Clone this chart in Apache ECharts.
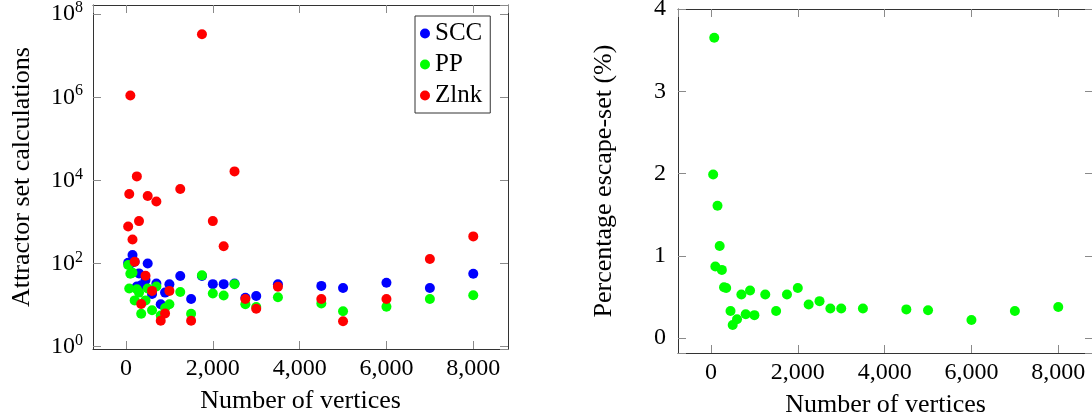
<!DOCTYPE html>
<html>
<head>
<meta charset="utf-8">
<script src="https://cdn.jsdelivr.net/npm/echarts@6/dist/echarts.min.js"></script>
<style>
html,body{margin:0;padding:0;background:#fff;}
#chart{width:1092px;height:416px;}
</style>
</head>
<body>
<div id="chart"></div>
<script>
const xVertices = [50,75,100,150,200,250,300,350,450,500,600,700,800,900,1000,1250,1500,1750,2000,2250,2500,2750,3000,3500,4500,5000,6000,7000,8000];
const sccCalcs = [105,95,100,160,110,28,58,30,40,100,18.5,33,10.5,20,31.6,50,14,50,32,32,33,15,16.5,31.6,29,25.7,34.7,25.7,56.7];
const ppCalcs = [92,25,57,60,13,24,20,6.2,13,25,7.5,28,5.6,8.5,10.5,20.6,6.2,52,19,17,32,10.5,9,15.4,11,7.1,9.1,14,17.2];
const zlnkCalcs = [780,4700,1.1e6,380,110,1.25e4,1050,10.6,51,4200,22,3100,4.2,6.3,22,6200,4.2,3.3e7,1050,260,1.65e4,14,8.2,27.6,14,4.1,14,129,450];
const ppEscapePct = [1.99,3.65,0.87,1.61,1.12,0.83,0.62,0.61,0.33,0.16,0.23,0.53,0.29,0.58,0.28,0.53,0.33,0.53,0.61,0.41,0.45,0.36,0.36,0.36,0.35,0.34,0.22,0.33,0.38];
const seriesNames = ['SCC','PP','Zlnk'];
const xTitle = 'Number of vertices';
const yTitleLeft = 'Attractor set calculations';
const yTitleRight = 'Percentage escape-set (%)';

const FONT = 'Liberation Serif';
const FS = 24;
const NFS = 26;
const FRAME = '#333';
const TICK = '#8a8a8a';
const pairs = (ys) => xVertices.map((x, i) => [x, ys[i]]);

function xLab(v) {
  if (Math.abs(v % 2000) > 1e-6) return '';
  return v.toLocaleString('en-US');
}
function yLinLab(v) {
  if (Math.abs(v - Math.round(v)) > 1e-6) return '';
  return String(Math.round(v));
}
function yLogLab(v) {
  const e = Math.log10(v);
  const r = Math.round(e);
  if (Math.abs(e - r) > 1e-6) return '';
  return '{b|10}{s|' + r + '}';
}

const XMIN = -760, XMAX = 8800;
function xAxes(gridIndex, pos) {
  const bottom = pos === 'bottom';
  return {
    type: 'value', gridIndex: gridIndex, position: pos, min: XMIN, max: XMAX, splitNumber: 5,
    axisLine: {show: true, onZero: false, lineStyle: {color: FRAME, width: 1}},
    axisTick: {show: true, inside: true, length: 8, lineStyle: {color: TICK}},
    splitLine: {show: false},
    axisLabel: {show: bottom, formatter: xLab, color: '#000', fontFamily: FONT, fontSize: FS, margin: 8,
                showMinLabel: false, showMaxLabel: false},
    name: bottom ? xTitle : '', nameLocation: 'middle', nameGap: 39,
    nameTextStyle: {color: '#000', fontFamily: FONT, fontSize: NFS}
  };
}
const richLog = {
  b: {fontFamily: FONT, fontSize: FS, color: '#000', lineHeight: 28},
  s: {fontFamily: FONT, fontSize: 16, color: '#000', lineHeight: 28, verticalAlign: 'top', padding: [0, 0, 9, 0]}
};
function yLogAxis(pos) {
  const left = pos === 'left';
  return {
    type: 'log', logBase: 100, gridIndex: 0, position: pos, min: 0.88, max: 1.66e8,
    axisLine: {show: true, onZero: false, lineStyle: {color: FRAME, width: 1}},
    axisTick: {show: true, inside: true, length: 8, lineStyle: {color: TICK}},
    minorTick: {show: false}, splitLine: {show: false},
    axisLabel: {show: left, formatter: yLogLab, rich: richLog, margin: 10, showMinLabel: false, showMaxLabel: false},
    name: left ? yTitleLeft : '', nameLocation: 'middle', nameGap: 58, nameRotate: 90,
    nameTextStyle: {color: '#000', fontFamily: FONT, fontSize: NFS}
  };
}
function yLinAxis(pos) {
  const left = pos === 'left';
  return {
    type: 'value', gridIndex: 1, position: pos, min: -0.18, max: 4, splitNumber: 5,
    axisLine: {show: true, onZero: false, lineStyle: {color: FRAME, width: 1}},
    axisTick: {show: true, inside: true, length: 8, lineStyle: {color: TICK}},
    splitLine: {show: false},
    axisLabel: {show: left, formatter: yLinLab, color: '#000', fontFamily: FONT, fontSize: FS, margin: 12},
    name: left ? yTitleRight : '', nameLocation: 'middle', nameGap: 61, nameRotate: 90,
    nameTextStyle: {color: '#000', fontFamily: FONT, fontSize: NFS}
  };
}

const chart = echarts.init(document.getElementById('chart'), null, {renderer: 'canvas'});
const dot = (name, color, data, xi, yi) => ({
  name: name, type: 'scatter', xAxisIndex: xi, yAxisIndex: yi, data: data,
  symbol: 'circle', symbolSize: 10, itemStyle: {color: color, opacity: 1},
  emphasis: {disabled: true}, animation: false
});
chart.setOption({
  animation: false,
  backgroundColor: '#fff',
  grid: [
    {left: 93, top: 5, width: 415, height: 344, containLabel: false, outerBoundsMode: 'none'},
    {left: 678, top: 9, width: 415, height: 344, containLabel: false, outerBoundsMode: 'none'}
  ],
  xAxis: [xAxes(0, 'bottom'), xAxes(0, 'top'), xAxes(1, 'bottom'), xAxes(1, 'top')],
  yAxis: [yLogAxis('left'), yLogAxis('right'), yLinAxis('left'), yLinAxis('right')],
  legend: {
    data: seriesNames, orient: 'vertical', left: 415, top: 16,
    icon: 'circle', itemWidth: 10, itemHeight: 10, itemGap: 2,
    backgroundColor: '#fff', borderColor: FRAME, borderWidth: 1, padding: [3, 8, 3, 5],
    textStyle: {fontFamily: FONT, fontSize: 25, color: '#000', lineHeight: 29},
    selectedMode: false
  },
  series: [
    dot(seriesNames[0], '#0000ff', pairs(sccCalcs), 0, 0),
    dot(seriesNames[1], '#00ff00', pairs(ppCalcs), 0, 0),
    dot(seriesNames[2], '#ff0000', pairs(zlnkCalcs), 0, 0),
    dot('PP escape-set', '#00ff00', pairs(ppEscapePct), 2, 2)
  ]
});
</script>
</body>
</html>
